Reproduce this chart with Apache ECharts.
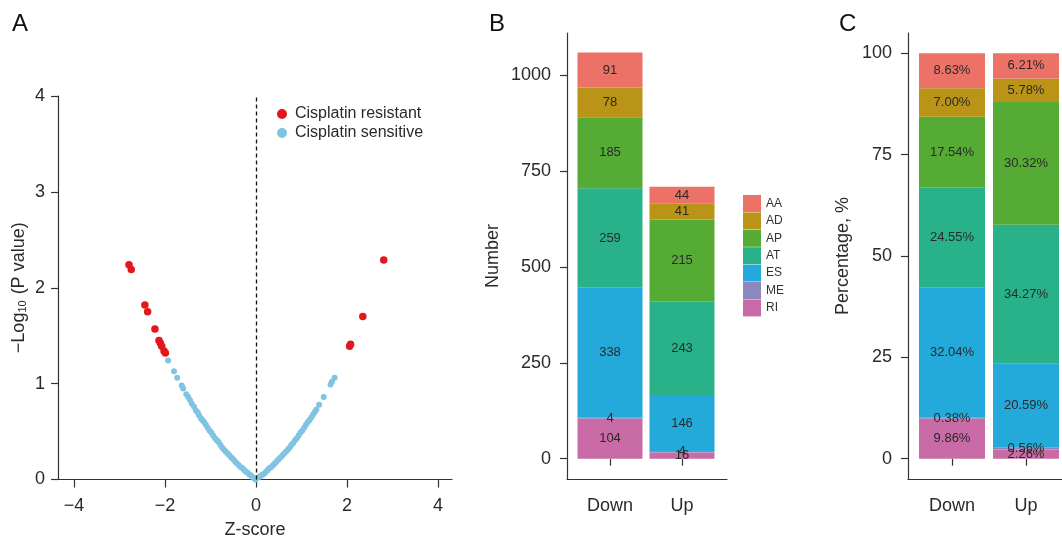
<!DOCTYPE html>
<html>
<head>
<meta charset="utf-8">
<script src="https://cdn.jsdelivr.net/npm/echarts@6/dist/echarts.min.js"></script>
<style>
html,body{margin:0;padding:0;background:#fff}
#main{width:1062px;height:539px}
</style>
</head>
<body>
<div id="main"></div>
<script>
// panel A: z-score vs -log10(p)
const resistantPts = [[-2.79,2.24],[-2.74,2.19],[-2.44,1.82],[-2.38,1.75],[-2.22,1.57],[-2.13,1.45],[-2.10,1.42],[-2.07,1.39],[-2.02,1.34],[-1.99,1.32],[2.06,1.39],[2.08,1.41],[2.35,1.70],[2.81,2.29]]
const sensitivePts = [
  [-1.93,1.24],[-1.80,1.13],[-1.73,1.06],[-1.63,0.98],[-1.60,0.95],[-1.53,0.89],[-1.49,0.86],[-1.45,0.83],[-1.41,0.79],[-1.36,0.76],
  [-1.32,0.72],[-1.28,0.70],[-1.25,0.67],[-1.21,0.64],[-1.18,0.62],[-1.14,0.60],[-1.10,0.57],[-1.06,0.54],[-1.02,0.51],[-0.98,0.49],
  [-0.94,0.46],[-0.90,0.43],[-0.86,0.41],[-0.82,0.39],[-0.78,0.36],[-0.74,0.33],[-0.70,0.31],[-0.66,0.29],[-0.62,0.27],[-0.58,0.25],
  [-0.54,0.23],[-0.50,0.21],[-0.46,0.19],[-0.42,0.17],[-0.38,0.15],[-0.34,0.13],[-0.30,0.12],[-0.26,0.10],[-0.22,0.08],[-0.18,0.07],
  [-0.14,0.05],[-0.10,0.04],[-0.06,0.02],[-0.03,0.01],[-0.01,0.00],
  [0.05,0.02],[0.08,0.03],[0.11,0.04],[0.14,0.05],[0.18,0.06],[0.22,0.08],[0.26,0.10],[0.30,0.12],[0.34,0.13],[0.38,0.15],
  [0.42,0.17],[0.46,0.19],[0.50,0.21],[0.54,0.23],[0.58,0.25],[0.62,0.27],[0.66,0.29],[0.70,0.31],[0.74,0.33],[0.78,0.36],
  [0.82,0.38],[0.86,0.41],[0.90,0.43],[0.94,0.46],[0.98,0.49],[1.02,0.51],[1.06,0.54],[1.10,0.57],[1.14,0.60],[1.18,0.62],
  [1.22,0.65],[1.26,0.68],[1.30,0.71],[1.33,0.73],[1.39,0.78],[1.49,0.86],[1.64,0.99],[1.67,1.02],[1.73,1.06]
]
const zTicks = [-4,-2,0,2,4]

// panels B and C
const groups = ['Down','Up']
const classes = ['AA','AD','AP','AT','ES','ME','RI']
const countDown = [91,78,185,259,338,4,104]
const countUp = [44,41,215,243,146,4,16]
const pctDown = [8.63,7.00,17.54,24.55,32.04,0.38,9.86]
const pctUp = [6.21,5.78,30.32,34.27,20.59,0.56,2.26]
const countTicks = [0,250,500,750,1000]
const pctTicks = [0,25,50,75,100]

const colors = {AA:'#EC7167',AD:'#BA9416',AP:'#56AB35',AT:'#29B28A',ES:'#23A9DA',ME:'#8D87C0',RI:'#C96BA6'}
const font = 'Liberation Sans, Arial, Helvetica, sans-serif'
const ink = '#2a2a2a'
const countRange = [-53,1110]
const pctRange = [-5,105]

const lineStyle = {color:'#333',width:1.2}
function valAxis(extra){
  return Object.assign({
    type:'value',
    splitLine:{show:false},
    axisLine:{show:true,onZero:false,lineStyle},
    axisTick:{show:true,length:7,lineStyle},
    nameTextStyle:{fontSize:18,color:ink,fontFamily:font}
  },extra)
}
// frame x axis: only the line, spanning the padded panel
function frameX(gi){
  return {type:'value',gridIndex:gi,min:0,max:1,splitLine:{show:false},
    axisLine:{show:true,onZero:false,lineStyle},axisTick:{show:false},axisLabel:{show:false}}
}
function barX(gi){
  return {type:'category',gridIndex:gi,data:groups,
    axisLine:{show:false},axisTick:{show:true,alignWithLabel:true,length:7,lineStyle},
    axisLabel:{fontSize:18,color:ink,margin:18,fontFamily:font}}
}
function hiddenY(gi,r){
  return {type:'value',gridIndex:gi,min:r[0],max:r[1],show:false,splitLine:{show:false}}
}
function grid(l,r,t,b){
  return {left:l,right:r,top:t,bottom:b,outerBoundsMode:'none',containLabel:false}
}

let chart = echarts.init(document.getElementById('main'))

let series = [
  {
    type:'scatter',name:'Cisplatin sensitive',xAxisIndex:0,yAxisIndex:0,
    data:sensitivePts,symbolSize:6,itemStyle:{color:'#80C4E1',opacity:1},
    markLine:{silent:true,symbol:'none',label:{show:false},
      lineStyle:{color:'#111',type:[4,3],width:1.3},data:[{xAxis:0}]}
  },
  {
    type:'scatter',name:'Cisplatin resistant',xAxisIndex:0,yAxisIndex:0,
    data:resistantPts,symbolSize:7.5,itemStyle:{color:'#E3161B',opacity:1}
  }
]

// stack from bottom (RI) to top (AA)
for(let k=classes.length-1;k>=0;k--){
  let c = classes[k]
  series.push({
    type:'bar',name:c,xAxisIndex:2,yAxisIndex:2,stack:'count',barWidth:65,
    data:[countDown[k],countUp[k]],
    itemStyle:{color:colors[c]},
    label:{show:true,position:'inside',fontSize:13,color:ink,fontFamily:font}
  })
  series.push({
    type:'bar',name:c,xAxisIndex:4,yAxisIndex:4,stack:'pct',barWidth:66,
    data:[pctDown[k],pctUp[k]],
    itemStyle:{color:colors[c]},
    label:{show:true,position:'inside',fontSize:13,color:ink,fontFamily:font,formatter:p=>p.value.toFixed(2)+'%'}
  })
}

let option = {
  animation:false,
  backgroundColor:'#fff',
  textStyle:{fontFamily:font},
  title:[
    {text:'A',left:12,top:12,padding:0,textStyle:{fontSize:24,fontWeight:'normal',color:'#111',fontFamily:font}},
    {text:'B',left:489,top:12,padding:0,textStyle:{fontSize:24,fontWeight:'normal',color:'#111',fontFamily:font}},
    {text:'C',left:839,top:12,padding:0,textStyle:{fontSize:24,fontWeight:'normal',color:'#111',fontFamily:font}}
  ],
  legend:[
    {data:['Cisplatin resistant','Cisplatin sensitive'],orient:'vertical',left:277,top:106,padding:0,icon:'circle',
     itemWidth:16,itemHeight:10,itemGap:3,selectedMode:false,
     textStyle:{fontSize:16,color:ink,fontFamily:font}},
    {data:classes,orient:'vertical',left:743,top:195,padding:0,icon:'rect',
     itemWidth:18,itemHeight:17,itemGap:0.4,selectedMode:false,
     textStyle:{fontSize:12,color:'#333',fontFamily:font}}
  ],
  grid:[
    grid(58,610,96,59.5),
    grid(567,335,33,60),
    grid(574,344,33,60),
    grid(908,-8,33,60),
    grid(915,-1,33,60)
  ],
  xAxis:[
    valAxis({gridIndex:0,min:-4.35,max:4.31,name:'Z-score',nameLocation:'middle',nameGap:42,
      axisTick:{show:true,length:8,lineStyle,customValues:zTicks},
      axisLabel:{customValues:zTicks,fontSize:18,color:ink,margin:18,fontFamily:font,
        formatter:v=>v<0?'\u2212'+Math.abs(v):String(v)}}),
    frameX(1),
    barX(2),
    frameX(3),
    barX(4)
  ],
  yAxis:[
    valAxis({gridIndex:0,min:0,max:4,interval:1,
      name:'\u2212Log{s|10} (P value)',nameLocation:'middle',nameGap:30,
      nameTextStyle:{fontSize:18,color:ink,fontFamily:font,rich:{s:{fontSize:11,verticalAlign:'bottom',fontFamily:font,color:ink,padding:[6,1,0,0]}}},
      axisLabel:{fontSize:18,color:ink,margin:13,fontFamily:font}}),
    valAxis({gridIndex:1,min:countRange[0],max:countRange[1],name:'Number',nameLocation:'middle',nameGap:65,
      axisTick:{show:true,length:7,lineStyle,customValues:countTicks},
      axisLabel:{customValues:countTicks,fontSize:18,color:ink,margin:16,fontFamily:font,formatter:v=>String(v)}}),
    hiddenY(2,countRange),
    valAxis({gridIndex:3,min:pctRange[0],max:pctRange[1],name:'Percentage, %',nameLocation:'middle',nameGap:56,
      axisTick:{show:true,length:7,lineStyle,customValues:pctTicks},
      axisLabel:{customValues:pctTicks,fontSize:18,color:ink,margin:16,fontFamily:font,formatter:v=>String(v)}}),
    hiddenY(4,pctRange)
  ],
  series
}
chart.setOption(option)
</script>
</body>
</html>
